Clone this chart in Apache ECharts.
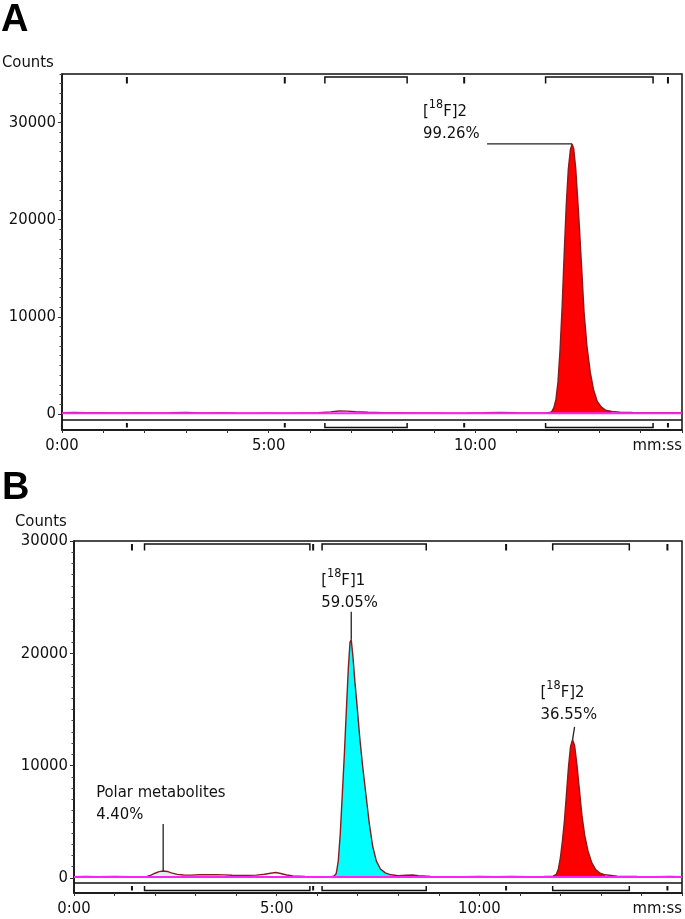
<!DOCTYPE html>
<html><head><meta charset="utf-8">
<script src="https://cdn.jsdelivr.net/npm/echarts@6/dist/echarts.min.js"></script>
<style>html,body{margin:0;padding:0;background:#fff}#c{width:685px;height:919px}</style>
</head><body><div id="c"></div>
<script>
// ---------------- DATA ----------------
// time axis (minutes)
const xTickValues = [0,1,2,3,4,5,6,7,8,9,10,11,12,13,14,15];
const xLabelValues = [0,5,10,15];
const xLabelTexts = ['0:00','5:00','10:00','mm:ss'];
const yLabelValues = [0,10000,20000,30000];

// Panel A trace segments [time(min), counts]
const A_base1 = [[0,130],[0.3,150],[0.6,120],[1.0,140],[1.4,110],[1.8,130],[2.2,100],[2.6,120],[3.0,150],[3.4,110],[3.8,120],[4.2,100],[4.6,90],[5.0,110],[5.4,90],[5.8,110],[6.2,130],[6.5,220],[6.7,300],[6.9,290],[7.1,230],[7.4,170],[7.8,140],[8.2,120],[8.6,100],[9.0,110],[9.4,90],[9.8,100],[10.2,120],[10.6,150],[11.0,120],[11.4,100],[11.7,110]];
const A_peak2 = [[11.8,150],[11.85,250],[11.9,650],[11.95,1500],[12.0,3300],[12.05,6600],[12.1,11000],[12.15,16500],[12.2,21500],[12.25,25200],[12.3,27200],[12.34,27800],[12.38,27300],[12.43,25200],[12.5,20500],[12.57,15200],[12.63,10500],[12.7,7000],[12.78,4300],[12.86,2500],[12.95,1300],[13.05,700],[13.15,400],[13.3,250]];
const A_base2 = [[13.5,180],[13.8,150],[14.1,130],[14.4,140],[14.7,120],[15,130]];
const A_baseline = [[0,80],[15,80]];

// Panel B trace segments
const B_base0 = [[0,120],[0.3,140],[0.6,110],[1.0,130],[1.4,110],[1.7,120]];
const B_polar = [[1.8,140],[1.9,250],[2.0,420],[2.1,560],[2.2,620],[2.3,580],[2.4,450],[2.55,320],[2.7,260]];
const B_mid1 = [[2.9,250],[3.1,280],[3.3,300],[3.5,290],[3.7,270],[3.9,240],[4.1,220],[4.3,230],[4.5,250],[4.7,330],[4.85,420],[4.98,480],[5.1,400],[5.25,260],[5.4,170],[5.7,130],[6.0,120],[6.2,110],[6.35,120]];
const B_peak1 = [[6.42,180],[6.47,400],[6.52,1500],[6.57,4000],[6.62,7500],[6.67,11000],[6.72,15000],[6.77,18800],[6.81,21000],[6.84,21200],[6.88,19800],[6.93,17500],[6.98,15500],[7.05,12500],[7.12,10000],[7.2,7500],[7.28,5000],[7.37,2800],[7.46,1500],[7.56,800],[7.68,450],[7.82,280]];
const B_mid2 = [[8.0,200],[8.2,240],[8.35,260],[8.5,200],[8.8,140],[9.2,120],[9.6,110],[10.0,130],[10.4,120],[10.8,140],[11.2,120],[11.6,130]];
const B_peak2 = [[11.82,160],[11.9,320],[11.95,800],[12.0,1800],[12.05,3300],[12.1,5100],[12.15,7500],[12.2,9900],[12.25,11700],[12.3,12300],[12.35,11800],[12.41,10000],[12.47,7800],[12.53,5600],[12.6,3800],[12.68,2400],[12.77,1400],[12.87,750],[12.98,420],[13.1,280]];
const B_base3 = [[13.4,160],[13.9,130],[14.3,120],[14.7,130],[15,120]];
const B_baseline = [[0,80],[15,80]];

// integration markers (minutes): single ticks and [start,end] brackets
const A_ticks = [1.57, 5.39, 9.73, 14.66];
const A_brackets = [[6.36, 8.35], [11.7, 14.3]];
const B_ticks = [1.43, 5.9, 10.66, 14.64];
const B_brackets = [[1.74, 5.82], [6.12, 8.69], [11.81, 13.7]];

// peak annotations
const A_peakName = ['[', '18', 'F]2']; const A_peakPct = '99.26%';
const B_peak1Name = ['[', '18', 'F]1']; const B_peak1Pct = '59.05%';
const B_peak2Name = ['[', '18', 'F]2']; const B_peak2Pct = '36.55%';
const B_polarName = 'Polar metabolites'; const B_polarPct = '4.40%';

// ---------------- CHART ----------------
const FONT = "'DejaVu Sans Condensed', 'DejaVu Sans', sans-serif";
const FS = 16.5;
const INK = '#111';
const TRACE = '#8b1a1a';

const chart = echarts.init(document.getElementById('c'), null, {renderer: 'canvas'});

function minorValues(max){ const r=[]; for(let v=1000; v<=max; v+=1000){ if(v%10000!==0) r.push(v);} return r; }

function xAxisFor(g){
  return {
    type:'value', gridIndex:g, min:0, max:15,
    axisLine:{show:true, onZero:false, lineStyle:{color:INK, width:1.5}},
    axisTick:{show:true, customValues:xTickValues, length:3, lineStyle:{color:'#333', width:1}},
    axisLabel:{show:true, customValues:xLabelValues, margin:7, color:INK, fontSize:FS, fontFamily:FONT,
      alignMaxLabel:'right',
      formatter:(v)=>{ const i=xLabelValues.indexOf(v); return i>=0? xLabelTexts[i] : ''; }},
    splitLine:{show:false}
  };
}
function yAxesFor(g, min, max){
  return [{
    type:'value', gridIndex:g, min:min, max:max, position:'left',
    axisLine:{show:true, onZero:false, lineStyle:{color:INK, width:1.5}},
    axisTick:{show:true, customValues:yLabelValues, length:4, lineStyle:{color:'#333', width:1}},
    axisLabel:{show:true, customValues:yLabelValues, margin:6, color:INK, fontSize:FS, fontFamily:FONT,
      formatter:(v)=>String(v)},
    splitLine:{show:false}
  },{
    type:'value', gridIndex:g, min:min, max:max, position:'left', offset:0,
    axisLine:{show:false},
    axisTick:{show:true, customValues:minorValues(max), length:2.5, lineStyle:{color:'#444', width:1}},
    axisLabel:{show:false}, splitLine:{show:false}
  }];
}

function lineSeries(xi, yi, data, color, width, z){
  return {type:'line', xAxisIndex:xi, yAxisIndex:yi, data:data, showSymbol:false, symbol:'none',
    lineStyle:{color:color, width:width}, z:z, animation:false, silent:true};
}
function fillSeries(xi, yi, data, color, z){
  return {type:'line', xAxisIndex:xi, yAxisIndex:yi, data:data, showSymbol:false, symbol:'none',
    lineStyle:{width:0, color:color}, areaStyle:{color:color, opacity:1, origin:'auto'}, z:z, animation:false, silent:true};
}
function stripSeries(xi, yi, ticks, brackets){
  const data = ticks.map(t=>[t,t,0]).concat(brackets.map(b=>[b[0],b[1],0]));
  return {
    type:'custom', xAxisIndex:xi, yAxisIndex:yi, data:data, encode:{x:[0,1], y:2}, z:10, animation:false, silent:true,
    renderItem:(params, api)=>{
      const cs = params.coordSys;
      const s = api.coord([api.value(0), 0])[0];
      const e = api.coord([api.value(1), 0])[0];
      const top = cs.y, bot = cs.y + cs.height;
      const ch = [];
      if (api.value(0) === api.value(1)) {
        const st = {stroke:INK, lineWidth:2};
        ch.push({type:'line', shape:{x1:s, y1:top+3, x2:s, y2:top+9.5}, style:st});
        ch.push({type:'line', shape:{x1:s, y1:bot-2.5, x2:s, y2:bot-7}, style:st});
      } else {
        const st = {stroke:INK, lineWidth:1.5, fill:null};
        ch.push({type:'polyline', shape:{points:[[s,top+9.5],[s,top+3],[e,top+3],[e,top+9.5]]}, style:st});
        ch.push({type:'polyline', shape:{points:[[s,bot-7],[s,bot-2.5],[e,bot-2.5],[e,bot-7]]}, style:st});
      }
      if (params.dataIndex === 0) {
        ch.push({type:'line', shape:{x1:cs.x, y1:bot-10, x2:cs.x+cs.width, y2:bot-10}, style:{stroke:INK, lineWidth:1.5}});
      }
      return {type:'group', children:ch};
    }
  };
}

const A_trace = A_base1.concat(A_peak2, A_base2);
const B_trace = B_base0.concat(B_polar, B_mid1, B_peak1, B_mid2, B_peak2, B_base3);

const option = {
  backgroundColor:'#fff',
  animation:false,
  grid:[
    {left:62, top:74, width:621, height:356, show:true, borderColor:INK, borderWidth:1.5, containLabel:false},
    {left:74, top:541, width:609, height:352, show:true, borderColor:INK, borderWidth:1.5, containLabel:false}
  ],
  xAxis:[xAxisFor(0), xAxisFor(1)],
  yAxis:[].concat(yAxesFor(0, -1650, 35000), yAxesFor(1, -1340, 30000)),
  series:[
    fillSeries(0,0,A_peak2,'#ff0000',2),
    lineSeries(0,0,A_trace,TRACE,1.4,4),
    lineSeries(0,0,A_baseline,'#ff22ff',2,5),
    stripSeries(0,0,A_ticks,A_brackets),
    fillSeries(1,2,B_polar,'#d9f3f3',2),
    fillSeries(1,2,B_peak1,'#00ffff',2),
    fillSeries(1,2,B_peak2,'#ff0000',2),
    lineSeries(1,2,B_trace,TRACE,1.4,4),
    lineSeries(1,2,B_baseline,'#ff22ff',2,5),
    stripSeries(1,2,B_ticks,B_brackets)
  ]
};
chart.setOption(option);

// ---------- annotations anchored on peak apexes ----------
function apex(seg){ let m=seg[0]; seg.forEach(p=>{ if(p[1]>m[1]) m=p; }); return m; }
function px(grid, p){ return chart.convertToPixel({xAxisIndex:grid, yAxisIndex:grid*2}, p); }
const rich = {
  m:{fontSize:FS, fontFamily:FONT, lineHeight:22, verticalAlign:'bottom', fill:INK, color:INK},
  s:{fontSize:12.5, fontFamily:FONT, lineHeight:10, verticalAlign:'top', fill:INK, color:INK}
};
function nameRich(parts){ return '{m|'+parts[0]+'}{s|'+parts[1]+'}{m|'+parts[2]+'}'; }
const graphics = [];
function annotate(grid, seg, text, dx, line1Dy, leader){
  const a = px(grid, apex(seg));
  graphics.push({type:'text', silent:true, z:100, style:{text:text, rich:rich, x:a[0]+dx, y:a[1]+line1Dy-11,
    align:'left', verticalAlign:'top', fill:INK, font:FS+'px '+FONT}});
  graphics.push({type:'line', silent:true, z:100, shape:{x1:a[0]+leader[0][0], y1:a[1]+leader[0][1], x2:a[0]+leader[1][0], y2:a[1]+leader[1][1]},
    style:{stroke:'#222', lineWidth:1.3}});
}
annotate(0, A_peak2, nameRich(A_peakName)+'\n{m|'+A_peakPct+'}', -149, -35, [[-85,0],[0,0]]);
annotate(1, B_peak1, nameRich(B_peak1Name)+'\n{m|'+B_peak1Pct+'}', -30, -62, [[0,-28],[0,0]]);
annotate(1, B_peak2, nameRich(B_peak2Name)+'\n{m|'+B_peak2Pct+'}', -32, -50, [[2,-13],[0,0]]);
annotate(1, B_polar, '{m|'+B_polarName+'}\n{m|'+B_polarPct+'}', -67, -81, [[0,-47],[0,0]]);

graphics.push({type:'text', silent:true, style:{text:'A', x:1, y:2, font:'bold 38px "Liberation Sans", Arial, sans-serif', fill:'#000', verticalAlign:'top'}});
graphics.push({type:'text', silent:true, style:{text:'B', x:2, y:470, font:'bold 38px "Liberation Sans", Arial, sans-serif', fill:'#000', verticalAlign:'top'}});
graphics.push({type:'text', silent:true, style:{text:'Counts', x:2, y:63, font:FS+'px '+FONT, fill:INK, verticalAlign:'middle'}});
graphics.push({type:'text', silent:true, style:{text:'Counts', x:15, y:522, font:FS+'px '+FONT, fill:INK, verticalAlign:'middle'}});

chart.setOption({graphic:graphics});
</script></body></html>
